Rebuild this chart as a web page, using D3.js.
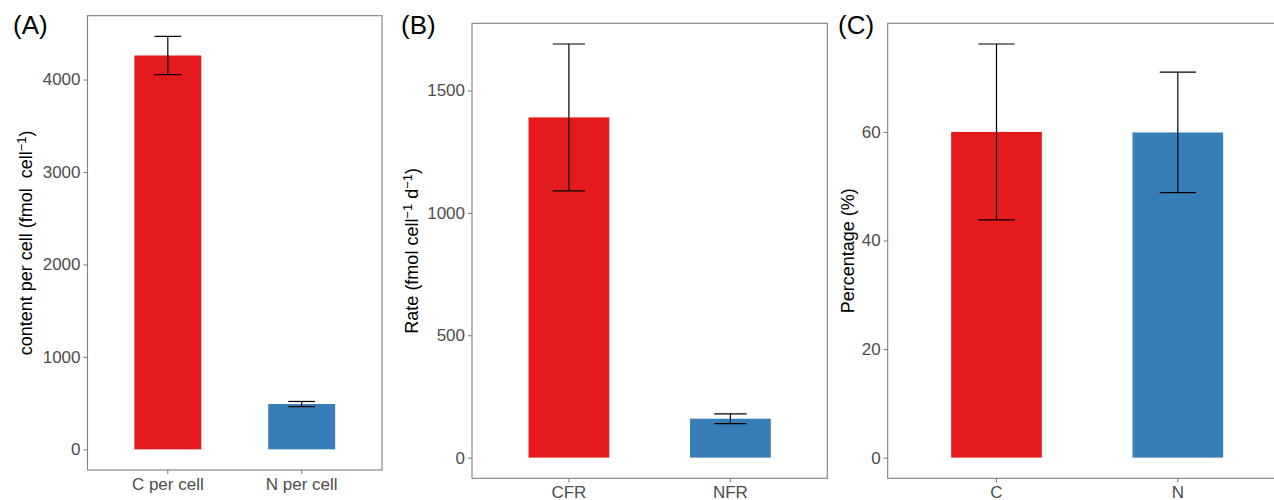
<!DOCTYPE html>
<html>
<head>
<meta charset="utf-8">
<script src="https://cdn.jsdelivr.net/npm/d3@7"></script>
<style>
  body { margin: 0; background: #fff; }
  svg { display: block; font-family: "Liberation Sans", Arial, sans-serif; }
  text { white-space: pre; }
</style>
</head>
<body>
<script>
// data (mean and sd per bar)
var panelLabels = ['(A)', '(B)', '(C)']

var catsA = ['C per cell', 'N per cell']
var meanA = [4260, 490]
var sdA = [207, 28]
var ticksA = [0, 1000, 2000, 3000, 4000]

var catsB = ['CFR', 'NFR']
var meanB = [1390, 159]
var sdB = [300, 20]
var ticksB = [0, 500, 1000, 1500]

var catsC = ['C', 'N']
var meanC = [60.0, 59.9]
var sdC = [16.2, 11.1]
var ticksC = [0, 20, 40, 60]

var barColors = ['#E41A1C', '#377EB8']

var width = 1274
var height = 500

var svg = d3.select('body').append('svg')
    .attr('width', width)
    .attr('height', height)

svg.append('rect')
    .attr('width', width)
    .attr('height', height)
    .attr('fill', '#fff')

var panels = [
    { label: panelLabels[0], labelX: 13, cats: catsA, mean: meanA, sd: sdA, ticks: ticksA,
      box: { l: 87.5, t: 15.7, r: 382, b: 470 }, titleX: 26,
      title: [['content per cell (fmol  cell', 0], ['\u22121', 1], [')', 0]] },
    { label: panelLabels[1], labelX: 401, cats: catsB, mean: meanB, sd: sdB, ticks: ticksB,
      box: { l: 472, t: 23.3, r: 827.3, b: 478.3 }, titleX: 412,
      title: [['Rate (fmol cell', 0], ['\u22121', 1], [' d', 0], ['\u22121', 1], [')', 0]] },
    { label: panelLabels[2], labelX: 838, cats: catsC, mean: meanC, sd: sdC, ticks: ticksC,
      box: { l: 887.7, t: 23.3, r: 1286.6, b: 478.3 }, titleX: 848,
      title: [['Percentage (%)', 0]] }
]

panels.forEach(drawPanel)

function drawPanel(p) {
    var box = p.box
    var rows = p.cats.map(function(c, i) {
        return { cat: c, mean: p.mean[i], sd: p.sd[i], color: barColors[i] }
    })

    // ggplot-like expansion: 5% of data range
    var hi = d3.max(rows, function(d) { return d.mean + d.sd })
    var y = d3.scaleLinear()
        .domain([-0.05 * hi, 1.05 * hi])
        .range([box.b, box.t])

    var x = d3.scaleBand()
        .domain(p.cats)
        .range([box.l, box.r])
        .paddingInner(0.5)
        .paddingOuter(0.35)

    var step = x.step()
    var g = svg.append('g')

    // bars
    g.selectAll('rect.bar')
        .data(rows)
        .enter().append('rect')
        .attr('class', 'bar')
        .attr('x', function(d) { return x(d.cat) })
        .attr('width', x.bandwidth())
        .attr('y', function(d) { return y(d.mean) })
        .attr('height', function(d) { return y(0) - y(d.mean) })
        .style('fill', function(d) { return d.color })

    // error bars
    var err = g.selectAll('g.err')
        .data(rows)
        .enter().append('g')
        .attr('class', 'err')
        .style('stroke', '#000')
        .style('stroke-width', 1.2)

    err.append('line')
        .attr('x1', function(d) { return x(d.cat) + x.bandwidth() / 2 })
        .attr('x2', function(d) { return x(d.cat) + x.bandwidth() / 2 })
        .attr('y1', function(d) { return y(d.mean - d.sd) })
        .attr('y2', function(d) { return y(d.mean + d.sd) })

    ;[-1, 1].forEach(function(s) {
        err.append('line')
            .attr('x1', function(d) { return x(d.cat) + x.bandwidth() / 2 - step * 0.1 })
            .attr('x2', function(d) { return x(d.cat) + x.bandwidth() / 2 + step * 0.1 })
            .attr('y1', function(d) { return y(d.mean + s * d.sd) })
            .attr('y2', function(d) { return y(d.mean + s * d.sd) })
    })

    // panel border
    g.append('rect')
        .attr('x', box.l)
        .attr('y', box.t)
        .attr('width', box.r - box.l)
        .attr('height', box.b - box.t)
        .style('fill', 'none')
        .style('stroke', '#7f7f7f')
        .style('stroke-width', 1.1)

    // axes
    var yAxis = g.append('g')
        .attr('transform', 'translate(' + box.l + ',0)')
        .call(d3.axisLeft(y).tickValues(p.ticks).tickSize(4).tickPadding(3).tickFormat(d3.format('d')))
    var xAxis = g.append('g')
        .attr('transform', 'translate(0,' + box.b + ')')
        .call(d3.axisBottom(x).tickSize(4).tickPadding(4))

    ;[yAxis, xAxis].forEach(function(a) {
        a.select('.domain').remove()
        a.selectAll('.tick line').style('stroke', '#7f7f7f').style('stroke-width', 1.1)
        a.selectAll('.tick text')
            .style('fill', '#4d4d4d')
            .style('font-size', '17px')
            .style('font-family', '"Liberation Sans", Arial, sans-serif')
    })

    // y title
    var cy = (box.t + box.b) / 2
    var t = g.append('text')
        .attr('transform', 'translate(' + p.titleX + ',' + cy + ') rotate(-90)')
        .attr('text-anchor', 'middle')
        .attr('dy', '0.35em')
        .style('font-size', '18px')
        .style('fill', '#000')
    p.title.forEach(function(part) {
        var ts = t.append('tspan').text(part[0])
        if (part[1]) ts.attr('baseline-shift', '45%').style('font-size', '13px')
    })

    // panel tag
    svg.append('text')
        .attr('x', p.labelX)
        .attr('y', 34)
        .style('font-size', '26px')
        .style('fill', '#000')
        .text(p.label)
}
</script>
</body>
</html>
